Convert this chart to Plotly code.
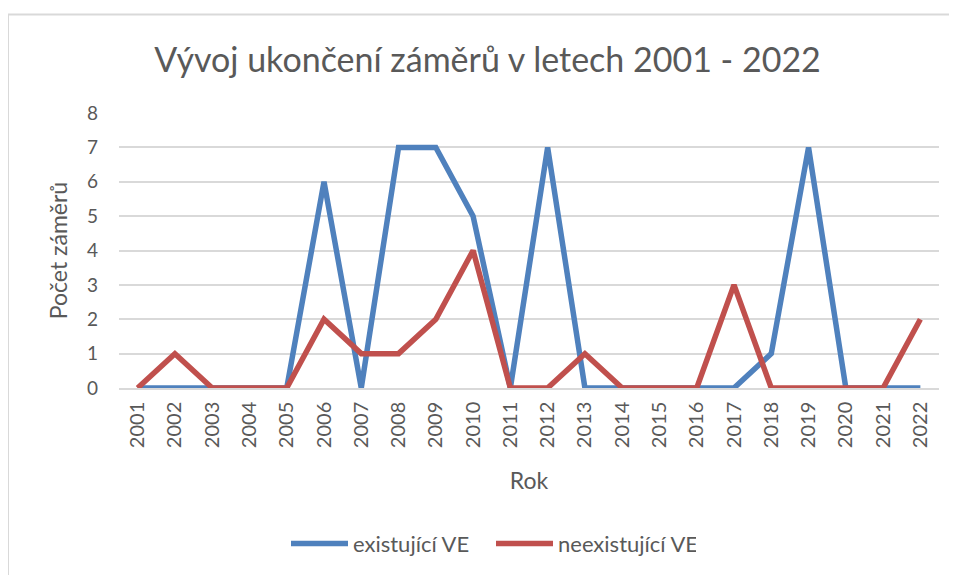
import plotly.graph_objects as go

years = [str(y) for y in range(2001, 2023)]
existujici = [0, 0, 0, 0, 0, 6, 0, 7, 7, 5, 0, 7, 0, 0, 0, 0, 0, 1, 7, 0, 0, 0]
neexistujici = [0, 1, 0, 0, 0, 2, 1, 1, 2, 4, 0, 0, 1, 0, 0, 0, 3, 0, 0, 0, 0, 2]
y_ticks = [0, 1, 2, 3, 4, 5, 6, 7, 8]

FONT = "Lato"
TXT = "#595959"

fig = go.Figure()
fig.add_trace(go.Scatter(x=years, y=existujici, mode="lines", name="existující VE",
                         line=dict(color="#4F81BD", width=5.5)))
fig.add_trace(go.Scatter(x=years, y=neexistujici, mode="lines", name="neexistující VE",
                         line=dict(color="#C0504D", width=5.5)))

# page has an 8px body margin; work in page coords then shift
OFF = 8
W, H = 957 - 2 * OFF, 583 - 2 * OFF
L, R, T, B = 111, 10, 105, 183
pw = W - L - R
ph = H - T - B

def px(xpage):
    return (xpage - OFF - L) / pw

def py(ypage):
    return (H - B - (ypage - OFF)) / ph

fig.update_layout(
    width=W, height=H,
    margin=dict(l=L, r=R, t=T, b=B),
    paper_bgcolor="white", plot_bgcolor="white",
    font=dict(family=FONT, color=TXT, size=16),
    title=dict(text="Vývoj ukončení záměrů v letech 2001 - 2022",
               xref="container", x=(487.5 - OFF) / W, xanchor="center",
               yref="container", y=1 - (60 - OFF) / H, yanchor="middle",
               font=dict(size=34, color=TXT, family=FONT)),
    showlegend=True,
    legend=dict(orientation="h", x=px(491), xanchor="center", y=py(550), yanchor="middle",
                font=dict(size=22, color=TXT), itemwidth=57,
                entrywidth=133, entrywidthmode="pixels"),
    xaxis=dict(type="category", range=[-0.5, 21.5], tickangle=-90,
               showgrid=False, showline=True, linecolor="#d9d9d9", linewidth=1.5,
               ticks="", tickfont=dict(size=20, color=TXT), ticklabelstandoff=4,
               title=dict(text="Rok", font=dict(size=23, color=TXT), standoff=26)),
    yaxis=dict(range=[0, 8], tickvals=y_ticks, showgrid=True, gridcolor="#d9d9d9",
               gridwidth=1.5, zeroline=False, showline=False, ticks="",
               tickfont=dict(size=19, color=TXT), ticklabelstandoff=20,
               title=dict(text="Počet záměrů", font=dict(size=23, color=TXT), standoff=12)),
    shapes=[
        dict(type="line", xref="paper", yref="paper", x0=px(8), x1=px(960), y0=py(13), y1=py(13),
             line=dict(color="#d9d9d9", width=2)),
        dict(type="line", xref="paper", yref="paper", x0=px(8), x1=px(8), y0=py(13), y1=py(600),
             line=dict(color="#d9d9d9", width=2)),
    ],
)

fig.write_html("out.html")
